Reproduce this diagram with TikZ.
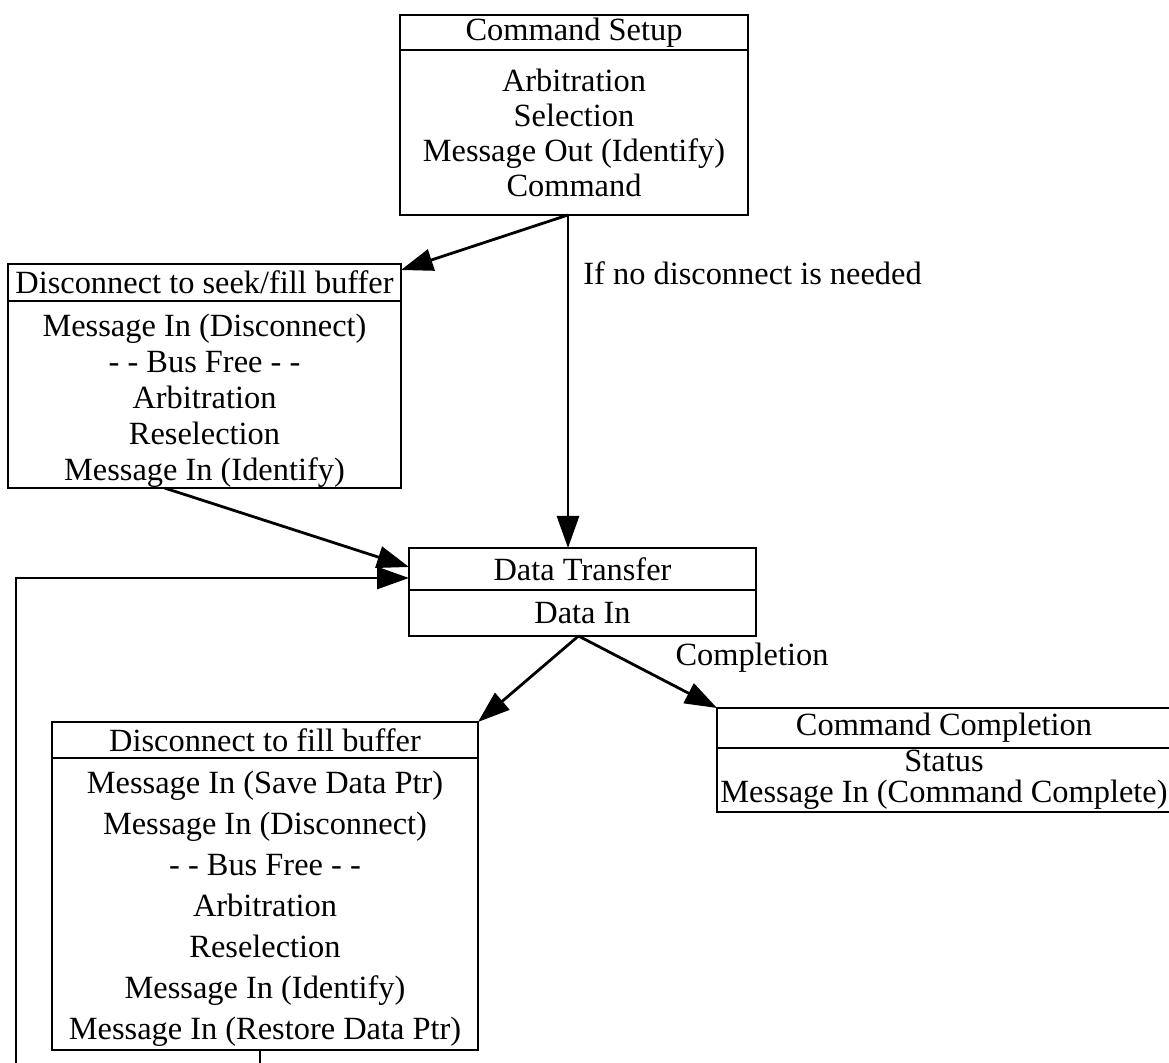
\documentclass[tikz,border=0pt]{standalone}
\usepackage{fontspec}
\setmainfont{Liberation Serif}
\usetikzlibrary{positioning,arrows.meta}

\tikzset{
  box/.style={draw, line width=1.2pt, outer sep=0pt, inner sep=0pt, align=center},
  hd/.style={box, font=\fontsize{16.2}{18}\selectfont},
  arr/.style={line width=1.4pt, -{Triangle[length=16pt,width=11pt]}},
  lbl/.style={inner sep=0pt, font=\fontsize{16.2}{18}\selectfont},
}

\begin{document}
\begin{tikzpicture}[x=0.5pt, y=-0.5pt]
\useasboundingbox (0,0) rectangle (1169,1063);

% command setup
\node[hd, minimum width=174pt, minimum height=17.5pt] (setuph) at (574,32.5) {Command Setup};
\node[box, below=0pt of setuph, minimum width=174pt, minimum height=82.5pt,
      font=\fontsize{16.2}{17.5}\selectfont] (setupb)
  {Arbitration\\Selection\\Message Out (Identify)\\Command};

% seek
\node[hd, minimum width=196.5pt, minimum height=18.5pt] (seekh) at (204.5,282.5) {Disconnect to seek/fill buffer};
\node[box, below=0pt of seekh, minimum width=196.5pt, minimum height=93.5pt,
      font=\fontsize{16.2}{18}\selectfont] (seekb)
  {\rule{0pt}{17.5pt}Message In (Disconnect)\\- - Bus Free - -\\Arbitration\\Reselection\\Message In (Identify)};

% data transfer
\node[hd, minimum width=173.5pt, minimum height=21pt] (xferh) at (582.5,569) {Data Transfer};
\node[box, below=0pt of xferh, minimum width=173.5pt, minimum height=23pt,
      font=\fontsize{16.2}{18}\selectfont] (xferb) {Data In};

% completion
\node[hd, minimum width=227pt, minimum height=20pt] (doneh) at (944,728) {Command Completion};
\node[box, below=0pt of doneh, minimum width=227pt, minimum height=32pt,
      font=\fontsize{16.2}{15.5}\selectfont] (doneb)
  {Status\\Message In (Command Complete)};

% fill buffer
\node[hd, minimum width=213pt, minimum height=18pt] (fillh) at (265,740) {Disconnect to fill buffer};
\node[box, below=0pt of fillh, minimum width=213pt, minimum height=146pt,
      font=\fontsize{16.2}{20.5}\selectfont] (fillb)
  {\rule{0pt}{16pt}Message In (Save Data Ptr)\\Message In (Disconnect)\\- - Bus Free - -\\Arbitration\\Reselection\\Message In (Identify)\\Message In (Restore Data Ptr)};

\node[lbl, anchor=west] (nodisc) at (583,273) {If no disconnect is needed};
\node[lbl] (compl) at (752,658) {Completion};

\coordinate (tap) at ([xshift=-3pt]setupb.south);
\coordinate (out) at ([xshift=-2pt]xferb.south);
\coordinate (back) at (16,1090);

\draw[arr] (tap) -- ([yshift=-3pt]seekh.north east);
\draw[arr] (tap) -- (tap |- xferh.north);
\draw[arr] ([xshift=-20pt]seekb.south) -- ([yshift=1pt]xferh.west);
\draw[arr] (out) -- (fillh.north east);
\draw[arr] (out) -- (doneh.north west);
\draw[arr] ([xshift=-2.5pt]fillb.south) -- ++(0,40) -- (back) |- ([yshift=-4.5pt]xferh.west);
\end{tikzpicture}
\end{document}
